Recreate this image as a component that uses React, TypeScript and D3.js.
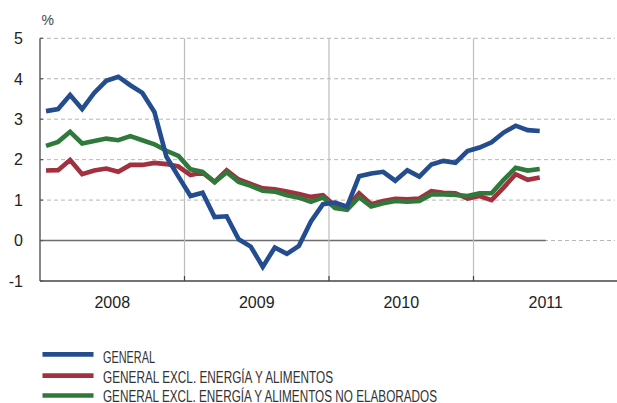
import React from "react";
import * as d3 from "d3";

const yearLabels = ["2008", "2009", "2010", "2011"];
const yTicks = [-1, 0, 1, 2, 3, 4, 5];

const general = [
  3.2, 3.25, 3.6, 3.25, 3.65, 3.95, 4.05, 3.84, 3.65, 3.18, 2.07, 1.58,
  1.1, 1.18, 0.58, 0.6, 0.03, -0.15, -0.65, -0.17, -0.33, -0.13, 0.47, 0.9,
  0.94, 0.84, 1.59, 1.66, 1.7, 1.48, 1.74, 1.58, 1.88, 1.97, 1.92, 2.21,
  2.3, 2.43, 2.67, 2.84, 2.73, 2.71,
];
const exclEnergyFood = [
  1.73, 1.74, 1.99, 1.64, 1.73, 1.78, 1.7, 1.87, 1.87, 1.92, 1.89, 1.83,
  1.62, 1.68, 1.45, 1.74, 1.51, 1.4, 1.29, 1.27, 1.21, 1.15, 1.08, 1.12,
  0.86, 0.82, 1.17, 0.9, 0.98, 1.03, 1.02, 1.04, 1.22, 1.18, 1.17, 1.04,
  1.1, 1.0, 1.31, 1.64, 1.5, 1.56,
];
const exclEnergyUnprocessed = [
  2.34, 2.44, 2.69, 2.4, 2.46, 2.52, 2.48, 2.58, 2.48, 2.38, 2.22, 2.09,
  1.76, 1.7, 1.44, 1.69, 1.45, 1.35, 1.23, 1.21, 1.12, 1.06, 0.96, 1.07,
  0.8, 0.76, 1.07, 0.84, 0.92, 0.98, 0.96, 0.98, 1.14, 1.14, 1.13, 1.1,
  1.17, 1.17, 1.5, 1.8, 1.73, 1.77,
];

const seriesNames = [
  "GENERAL",
  "GENERAL EXCL. ENERGÍA Y ALIMENTOS",
  "GENERAL EXCL. ENERGÍA Y ALIMENTOS NO ELABORADOS",
];
const seriesColors = ["#234d8e", "#a3303f", "#2f7a3b"];
const legendWidths = [52, 230, 334];
const legendBaselines = [363, 383, 402.3];
const legendLineY = [354.4, 375.6, 395.5];

export default function App() {
  const x = d3.scaleLinear().domain([0, 48]).range([40, 618]);
  const y = d3.scaleLinear().domain([-1, 5]).range([281, 38.3]);
  const line = d3
    .line<number>()
    .x((_, i) => x(i + 0.5))
    .y((d) => y(d))
    .curve(d3.curveLinear);

  const series = [general, exclEnergyFood, exclEnergyUnprocessed];
  const drawOrder = [1, 2, 0];
  const font = "'Liberation Sans', Arial, Helvetica, sans-serif";

  return (
    <svg
      width={617}
      height={403}
      style={{ position: "absolute", left: 0, top: 0, background: "#fff" }}
      fontFamily={font}
    >
      {/* gridlines */}
      {yTicks
        .filter((t) => t !== -1 && t !== 0)
        .map((t) => (
          <line
            key={"g" + t}
            x1={40}
            x2={615}
            y1={y(t)}
            y2={y(t)}
            stroke="#b5b5b5"
            strokeWidth={1}
            strokeDasharray="4,3"
          />
        ))}
      <line x1={40} x2={615} y1={y(0)} y2={y(0)} stroke="#b5b5b5" strokeDasharray="4,3" />
      <line x1={40} x2={x(42)} y1={y(0)} y2={y(0)} stroke="#6e6e6e" strokeWidth={1.6} />
      {/* year separators */}
      {[12, 24, 36].map((m) => (
        <g key={"s" + m}>
          <line x1={x(m)} x2={x(m)} y1={y(5)} y2={y(-1)} stroke="#bdbdbd" strokeWidth={1.2} />
          <line x1={x(m)} x2={x(m)} y1={y(-1) - 5} y2={y(-1)} stroke="#444" strokeWidth={1.2} />
        </g>
      ))}
      {/* axes */}
      <line x1={40} x2={40} y1={y(5)} y2={y(-1)} stroke="#555" strokeWidth={1.4} />
      <line x1={40} x2={617} y1={y(-1)} y2={y(-1)} stroke="#444" strokeWidth={1.4} />
      {yTicks.map((t) => (
        <g key={"t" + t}>
          <line x1={40} x2={43} y1={y(t)} y2={y(t)} stroke="#555" strokeWidth={1.2} />
          <text x={23} y={y(t) + 5.8} textAnchor="end" fontSize={16} fill="#222">
            {t}
          </text>
        </g>
      ))}
      <text x={41.5} y={25} fontSize={14} fill="#444">
        %
      </text>
      {yearLabels.map((lab, k) => (
        <text key={lab} x={x(k * 12 + 6)} y={308} textAnchor="middle" fontSize={16} fill="#222">
          {lab}
        </text>
      ))}
      {/* series */}
      {drawOrder.map((si) => (
        <path
          key={"p" + si}
          d={line(series[si]) || ""}
          fill="none"
          stroke={seriesColors[si]}
          strokeWidth={4.6}
          strokeLinejoin="miter"
          strokeMiterlimit={3}
        />
      ))}
      {/* legend */}
      {seriesNames.map((name, k) => (
        <g key={"l" + k}>
          <line
            x1={42.5}
            x2={93.5}
            y1={legendLineY[k]}
            y2={legendLineY[k]}
            stroke={seriesColors[k]}
            strokeWidth={4.6}
          />
          <text
            x={103}
            y={legendBaselines[k]}
            fontSize={16.3}
            fill="#333"
            textLength={legendWidths[k]}
            lengthAdjust="spacingAndGlyphs"
          >
            {name}
          </text>
        </g>
      ))}
    </svg>
  );
}
